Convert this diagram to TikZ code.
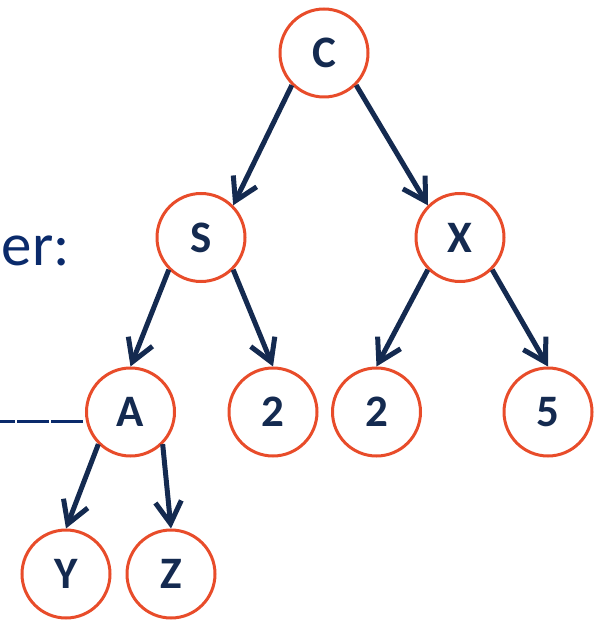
\documentclass[tikz,border=0pt]{standalone}
\usepackage{fontspec}
\setmainfont{Carlito}
\usetikzlibrary{arrows.meta}
\definecolor{navy}{HTML}{142A50}
\definecolor{darkblue}{HTML}{0A2A6B}
\definecolor{ring}{HTML}{E84C2A}
\tikzset{
  tnode/.style={circle, draw=ring, line width=3pt, minimum size=88pt, inner sep=0pt,
    text=navy, font=\fontsize{45}{48}\selectfont\bfseries},
  edge/.style={draw=navy, line width=5pt, -{Straight Barb[length=22pt, width=26pt, line width=5pt]}},
}
\begin{document}
\begin{tikzpicture}[x=1pt, y=-1pt]
\useasboundingbox (0,0) rectangle (594,620);
\clip (0,0) rectangle (594,620);
\node[tnode] (C) at (324,53) {C};
\node[tnode] (S) at (201,237.5) {S};
\node[tnode] (X) at (460,237.5) {X};
\node[tnode] (A) at (130.5,412) {A};
\node[tnode] (T1) at (273,412) {2};
\node[tnode] (T2) at (376.5,412) {2};
\node[tnode] (F) at (548,412) {5};
\node[tnode] (Y) at (66,574) {Y};
\node[tnode] (Z) at (171,574) {Z};
\draw[edge] (C.south west) -- (S.north east);
\draw[edge] (C.south east) -- (X.north west);
\draw[edge] (S.south west) -- (A.north);
\draw[edge] (S.south east) -- (T1.north);
\draw[edge] (X.south west) -- (T2.north);
\draw[edge] (X.south east) -- (F.north);
\draw[edge] (A.south west) -- (Y.north);
\draw[edge] (A.south east) -- (Z.north);
\node[anchor=base east, inner sep=0pt, text=darkblue, font=\fontsize{61}{66}\selectfont] (lbl) at (70,265) {er:};
\coordinate (dl) at (-2,421.7);
\coordinate (dr) at (83,421.7);
\draw[darkblue, line width=3pt, dash pattern=on 32pt off 2pt] (dr) -- (dl);
\end{tikzpicture}
\end{document}
